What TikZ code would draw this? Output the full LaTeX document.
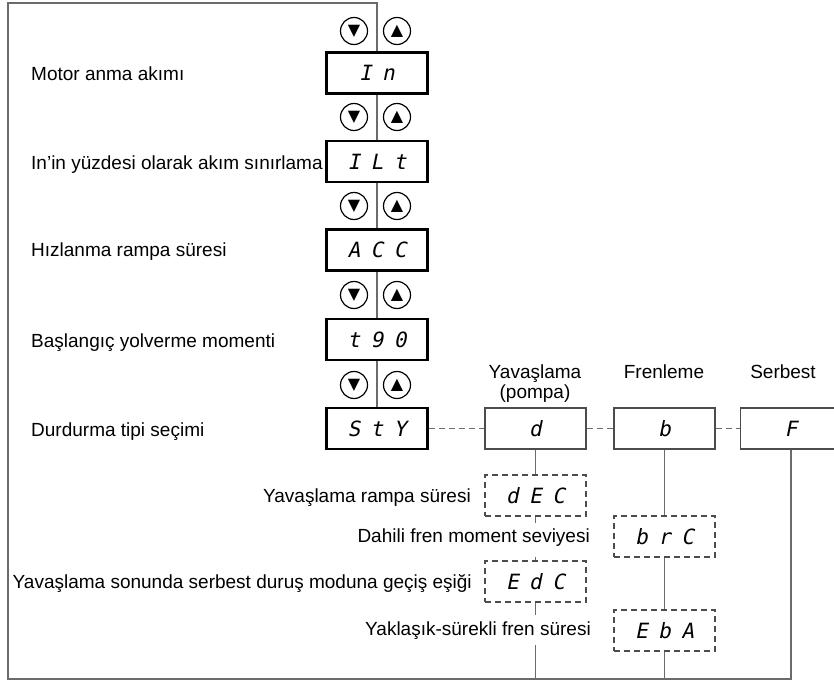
\documentclass[tikz,border=0pt]{standalone}
\usepackage{fontspec}
\setmainfont{Liberation Sans}
\newfontfamily\segfont[FakeSlant=0.2,WordSpace=0.83]{DejaVu Sans Mono}
\newfontfamily\symfont{DejaVu Sans}
\definecolor{linegray}{gray}{0.42}
\definecolor{boxgray}{gray}{0.3}

\begin{document}
\begin{tikzpicture}[x=1pt, y=-1pt,
    mainbox/.style={draw=black, line width=2.4pt, minimum width=101pt, minimum height=41pt,
        inner sep=0pt, font=\segfont\fontsize{21}{22}\selectfont},
    modebox/.style={draw=boxgray, line width=1.2pt, minimum width=101pt, minimum height=41pt,
        inner sep=0pt, font=\segfont\fontsize{21}{22}\selectfont},
    subbox/.style={modebox, dash pattern=on 6pt off 4pt},
    btn/.style={draw, circle, line width=1.2pt, minimum size=27pt, inner sep=0pt,
        font=\symfont\fontsize{16}{16}\selectfont},
    lbl/.style={font=\fontsize{19}{22}\selectfont, inner sep=1pt, text height=14pt, text depth=4pt},
    hd/.style={font=\fontsize{19}{20}\selectfont, inner sep=0pt},
    link/.style={draw=linegray, line width=1.3pt},
    optlink/.style={link, dash pattern=on 6pt off 4pt}]

    \clip (0,0) rectangle (834,684);

    % Main parameter column
    \node[mainbox] (pIn)  at (377,73)    {I n};
    \node[mainbox] (pILt) at (377,161.5) {I L t};
    \node[mainbox] (pACC) at (377,250)   {A C C};
    \node[mainbox] (ptq)  at (377,339.5) {t 9 0};
    \node[mainbox] (pStY) at (377,428.5) {S t Y};

    % Up/down keys
    \node[btn] (dn1) at (354,31)  {▼};
    \node[btn] (up1) at (397,31)  {▲};
    \node[btn] (dn2) at (354,117) {▼};
    \node[btn] (up2) at (397,117) {▲};
    \node[btn] (dn3) at (354,206) {▼};
    \node[btn] (up3) at (397,206) {▲};
    \node[btn] (dn4) at (354,295) {▼};
    \node[btn] (up4) at (397,295) {▲};
    \node[btn] (dn5) at (354,385) {▼};
    \node[btn] (up5) at (397,385) {▲};

    % Stop modes
    \node[modebox] (mD) at (535.5,428.5) {d};
    \node[modebox] (mB) at (664.5,428.5) {b};
    \node[modebox] (mF) at (791,428.5)   {F};

    % Sub-parameters
    \node[subbox] (pDEC) at (535.5,495.5) {d E C};
    \node[subbox] (pEDC) at (535.5,581.5) {E d C};
    \node[subbox] (pBRC) at (664.5,536.5) {b r C};
    \node[subbox] (pEBA) at (664.5,630.5) {E b A};

    % Frame
    \coordinate (topc) at (377,3);
    \coordinate (topl) at (8,3);
    \coordinate (botl) at (8,679);
    \draw[link] (pIn.north) -- (topc) -- (topl) -- (botl) -| (mF.south);

    % Links
    \draw[link] (pIn) -- (pILt);
    \draw[link] (pILt) -- (pACC);
    \draw[link] (pACC) -- (ptq);
    \draw[link] (ptq) -- (pStY);
    \draw[optlink] (pStY) -- (mD);
    \draw[optlink] (mD) -- (mB);
    \draw[optlink] (mB) -- (mF);
    \draw[link] (mD) -- (pDEC);
    \draw[optlink] (pDEC) -- (pEDC);
    \draw[link] (pEDC.south) -- (pEDC.south |- botl);
    \draw[link] (mB) -- (pBRC);
    \draw[link] (pBRC) -- (pEBA);
    \draw[link] (pEBA.south) -- (pEBA.south |- botl);

    % Labels
    \node[lbl, anchor=west] (lIn)  at (30,75.5)  {Motor anma akımı};
    \node[lbl, anchor=west] (lILt) at (30,164.5) {In’in yüzdesi olarak akım sınırlama};
    \node[lbl, anchor=west] (lACC) at (30,252)   {Hızlanma rampa süresi};
    \node[lbl, anchor=west] (ltq)  at (30,342)   {Başlangıç yolverme momenti};
    \node[lbl, anchor=west] (lStY) at (30,431)   {Durdurma tipi seçimi};

    \node[hd, align=center] (hD) at (535,384) {Yavaşlama\\(pompa)};
    \node[hd] (hB) at (664,372) {Frenleme};
    \node[hd] (hF) at (783,372) {Serbest};

    \node[lbl, anchor=east] (lDEC) at (472,497.5) {Yavaşlama rampa süresi};
    \node[lbl, anchor=east, fill=white, inner ysep=6pt] (lBRC) at (591,537.5) {Dahili fren moment seviyesi};
    \node[lbl, anchor=east] (lEDC) at (473,583.5) {Yavaşlama sonunda serbest duruş moduna geçiş eşiği};
    \node[lbl, anchor=east, fill=white, inner ysep=6pt] (lEBA) at (592,630) {Yaklaşık-sürekli fren süresi};
\end{tikzpicture}
\end{document}
